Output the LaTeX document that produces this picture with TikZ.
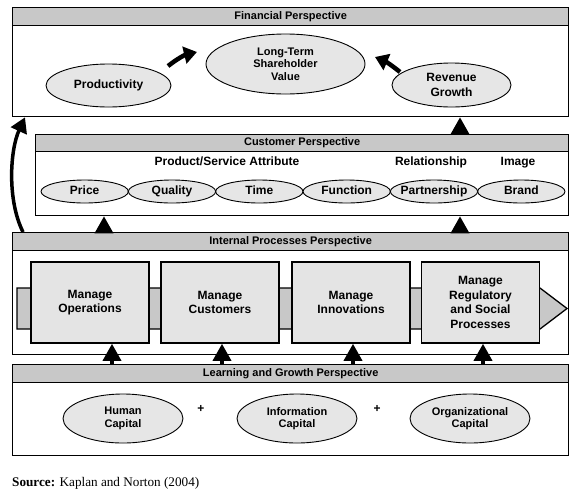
\documentclass[tikz,border=0pt]{standalone}
\usepackage{fontspec}
\setmainfont{Liberation Sans}
\newfontfamily\srcfont{Liberation Serif}
\usetikzlibrary{shapes.geometric,arrows.meta}
\definecolor{hdrgray}{HTML}{C8C8C8}
\definecolor{ellgray}{HTML}{E6E6E6}
\definecolor{boxgray}{HTML}{E4E4E4}
\definecolor{bandgray}{HTML}{C8C8C8}
\begin{document}
\begin{tikzpicture}[x=1pt,y=-1pt,
  frame/.style={draw, line width=1.3pt, fill=white, inner sep=0pt, anchor=north west},
  hdr/.style={draw, line width=1.3pt, fill=hdrgray, inner sep=0pt, anchor=north west,
    font=\fontsize{11}{13}\selectfont\bfseries},
  ell/.style={ellipse, draw, line width=0.9pt, fill=ellgray, inner sep=0pt},
  elltxt/.style={align=center, inner sep=0pt, font=\fontsize{12}{15}\selectfont\bfseries},
  elltxt1/.style={inner sep=0pt, text height=8.6pt, text depth=2.4pt, font=\fontsize{12}{15}\selectfont\bfseries},
  elltxts/.style={align=center, inner sep=0pt, font=\fontsize{11}{12.5}\selectfont\bfseries},
  subtitle/.style={inner sep=0pt, text height=8.6pt, text depth=2.4pt, font=\fontsize{12}{14}\selectfont\bfseries},
  mbox/.style={draw, line width=1.6pt, fill=boxgray, inner sep=0pt, align=center,
    minimum width=118pt, minimum height=81pt, font=\fontsize{12}{14.5}\selectfont\bfseries},
  uparrow/.style={line width=3.5pt, -{Triangle[length=17pt,width=18pt]}},
  fatarrow/.style={line width=4.5pt, -{Triangle[length=13pt,width=17pt]}},
  bigarrow/.style={line width=3.5pt, -{Triangle[length=15pt,width=17pt]}},
  plus/.style={inner sep=0pt, font=\fontsize{12}{14}\selectfont\bfseries}]
\useasboundingbox (0,0) rectangle (580,496);

% ---------- Financial ----------
\node[frame, minimum width=556pt, minimum height=109pt] (fin) at (12,7) {};
\node[hdr, minimum width=556pt, minimum height=18pt] (finh) at (fin.north west) {Financial Perspective};
\node[ell, minimum width=125pt, minimum height=43pt,
  label={[elltxt1]center:Productivity}] (prod) at (108.5,85.5) {};
\node[ell, minimum width=159pt, minimum height=60pt,
  label={[elltxts]center:Long-Term\\Shareholder\\Value}] (ltsv) at (285.5,64) {};
\node[ell, minimum width=119pt, minimum height=44pt,
  label={[elltxt]center:Revenue\\Growth}] (rev) at (451.5,85) {};
\coordinate (a1s) at (168,66);
\coordinate (a1e) at (197,52);
\coordinate (a2s) at (400,72);
\coordinate (a2e) at (375,57);
\draw[fatarrow] (a1s) to[bend left=12] (a1e);
\draw[fatarrow] (a2s) to[bend right=8] (a2e);

% ---------- Customer ----------
\node[frame, minimum width=533pt, minimum height=81pt] (cust) at (35,134) {};
\node[hdr, minimum width=533pt, minimum height=17pt] (custh) at (cust.north west) {Customer Perspective};
\node[subtitle] (psa) at (227,162) {Product/Service Attribute};
\node[subtitle] (rel) at (431,162) {Relationship};
\node[subtitle] (img) at (518,162) {Image};
\foreach \nm/\cx/\tx in {price/84.67/Price, qual/172/Quality, time/259.33/Time,
    func/346.67/Function, part/434/Partnership, brand/521.33/Brand}{
  \node[ell, minimum width=87.3pt, minimum height=23pt,
    label={[elltxt1]center:\tx}] (\nm) at (\cx,191.5) {};
}

% ---------- Internal ----------
\node[frame, minimum width=556pt, minimum height=122pt] (int) at (12,232) {};
\node[hdr, minimum width=556pt, minimum height=18pt] (inth) at (int.north west) {Internal Processes Perspective};
\draw[line width=1.3pt, fill=bandgray] (17,288) -- (540,288) -- (567,308.5) -- (540,329) -- (17,329) -- cycle;
\node[mbox] (m1) at (90,302.5) {Manage\\Operations};
\node[mbox] (m2) at (220,302.5) {Manage\\Customers};
\node[mbox] (m3) at (351,302.5) {Manage\\Innovations};
\node[mbox] (m4) at (480.5,302.5) {Manage\\Regulatory\\and Social\\Processes};

% ---------- Learning ----------
\node[frame, minimum width=556pt, minimum height=91pt] (learn) at (12,364) {};
\node[hdr, minimum width=556pt, minimum height=18pt] (learnh) at (learn.north west) {Learning and Growth Perspective};
\node[ell, minimum width=120pt, minimum height=49pt,
  label={[elltxts]center:Human\\Capital}] (hc) at (123,418.5) {};
\node[ell, minimum width=120pt, minimum height=49pt,
  label={[elltxts]center:Information\\Capital}] (ic) at (297,418.5) {};
\node[ell, minimum width=120pt, minimum height=49pt,
  label={[elltxts]center:Organizational\\Capital}] (oc) at (470,418.5) {};
\node[plus] (p1) at (201,409) {+};
\node[plus] (p2) at (377,409) {+};

% ---------- Connectors ----------
\draw[uparrow] (cust.north -| 460,0) -- (fin.south -| 460,0);
\draw[uparrow] (int.north -| 104,0) -- (cust.south -| 104,0);
\draw[uparrow] (int.north -| 460,0) -- (cust.south -| 460,0);
\draw[uparrow] (learn.north -| 112,0) -- (m1.south -| 112,0);
\draw[uparrow] (learn.north -| 222,0) -- (m2.south -| 222,0);
\draw[uparrow] (learn.north -| 353,0) -- (m3.south -| 353,0);
\draw[uparrow] (learn.north -| 483,0) -- (m4.south -| 483,0);
\draw[bigarrow] ([xshift=11pt]int.north west) .. controls (7,200) and (10,150) .. ([xshift=13pt]fin.south west);

% ---------- Source ----------
\node[anchor=west, inner sep=0pt, font=\srcfont\fontsize{13.2}{16}\selectfont] (src) at (12,483)
  {\textbf{Source:} Kaplan and Norton (2004)};
\end{tikzpicture}
\end{document}
